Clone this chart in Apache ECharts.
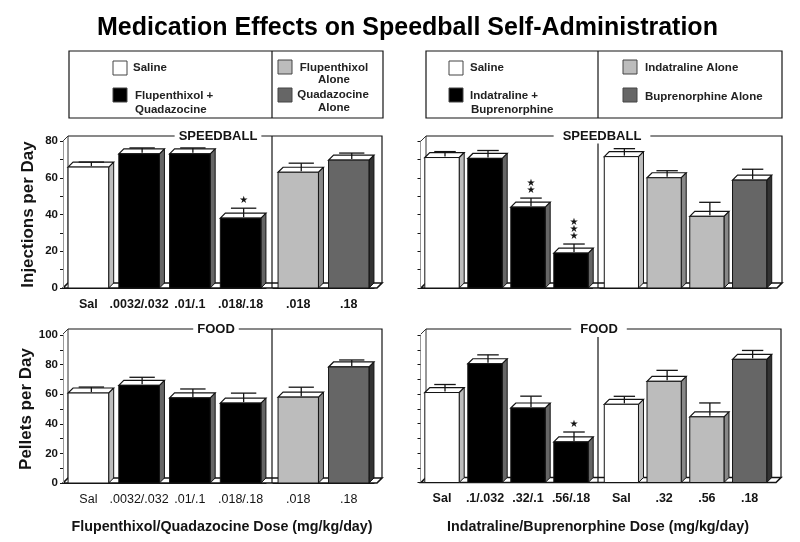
<!DOCTYPE html>
<html>
<head>
<meta charset="utf-8">
<style>html,body{margin:0;padding:0;background:#fff}#chart{width:800px;height:542px}</style>
<script src="https://cdn.jsdelivr.net/npm/echarts@6/dist/echarts.min.js"></script>
</head>
<body>
<div id="chart"></div>
<script>
// tick labels, left column
const comboCatsA = ['Sal', '.0032/.032', '.01/.1', '.018/.18'];
const aloneCatsA = ['.018', '.18'];
// tick labels, right column
const comboCatsB = ['Sal', '.1/.032', '.32/.1', '.56/.18'];
const aloneCatsB = ['Sal', '.32', '.56', '.18'];

const comboKindsA = ['saline', 'combo', 'combo', 'combo'];
const aloneKindsA = ['drugA', 'drugB'];
const comboKindsB = ['saline', 'combo', 'combo', 'combo'];
const aloneKindsB = ['saline', 'drugA', 'drugA', 'drugB'];

// top left: speedball, flupenthixol/quadazocine
const speedComboA = [65.8, 73, 73, 38];
const speedComboErrA = [1.1, 1.6, 1.6, 3.8];
const speedComboStarsA = [0, 0, 0, 1];
const speedAloneA = [63, 69.6];
const speedAloneErrA = [3.3, 2.2];

// top right: speedball, indatraline/buprenorphine
const speedComboB = [71, 70.5, 44, 19];
const speedComboErrB = [1.6, 2.7, 3.3, 3.3];
const speedComboStarsB = [0, 0, 2, 3];
const speedAloneB = [71.5, 60, 39, 58.7];
const speedAloneErrB = [2.7, 2.2, 6, 4.3];

// bottom left: food, flupenthixol/quadazocine
const foodComboA = [60.8, 66, 57.5, 54];
const foodComboErrA = [2, 3.4, 4, 4.7];
const foodComboStarsA = [0, 0, 0, 0];
const foodAloneA = [58, 78.4];
const foodAloneErrA = [4.7, 2.7];

// bottom right: food, indatraline/buprenorphine
const foodComboB = [61, 80.5, 50.5, 27.5];
const foodComboErrB = [3.4, 4, 6, 4.7];
const foodComboStarsB = [0, 0, 0, 1];
const foodAloneB = [53, 68.6, 44.5, 83.5];
const foodAloneErrB = [3.4, 5.4, 7.4, 4];

const FONT = '"Liberation Sans", Arial, sans-serif';
const INK = '#141414';
const DEPTH = 5;
const kindStyle = {
  saline: {face: '#fff', side: '#bdbdbd'},
  combo: {face: '#000', side: '#666'},
  drugA: {face: '#bcbcbc', side: '#888'},
  drugB: {face: '#666', side: '#333'}
};

function barRenderer(kinds, stars) {
  return function (params, api) {
    const i = api.value(0);
    const v = api.value(1);
    const e = api.value(2);
    const top = api.coord([i, v]);
    const base = api.coord([i, 0]);
    const band = api.size([1, 0])[0];
    const w = band * 0.8;
    const x0 = top[0] - w / 2, x1 = top[0] + w / 2;
    const st = kindStyle[kinds[i]];
    const line = {stroke: INK, lineWidth: 1.3};
    const mid = top[0] + 3;
    const capY = api.coord([i, v + e])[1] - 3;
    const capW = band * 0.25;
    const kids = [
      {type: 'polygon', shape: {points: [[x1, top[1]], [x1 + DEPTH, top[1] - DEPTH], [x1 + DEPTH, base[1] - DEPTH], [x1, base[1]]]}, style: {fill: st.side, stroke: INK, lineWidth: 1}},
      {type: 'polygon', shape: {points: [[x0, top[1]], [x0 + DEPTH, top[1] - DEPTH], [x1 + DEPTH, top[1] - DEPTH], [x1, top[1]]]}, style: {fill: '#fff', stroke: INK, lineWidth: 1.2}},
      {type: 'rect', shape: {x: x0, y: top[1], width: w, height: base[1] - top[1]}, style: {fill: st.face, stroke: INK, lineWidth: 1}},
      {type: 'line', shape: {x1: mid, y1: capY, x2: mid, y2: top[1] - 1}, style: line},
      {type: 'line', shape: {x1: mid - capW, y1: capY, x2: mid + capW, y2: capY}, style: line}
    ];
    for (let k = 0; k < stars[i]; k++) {
      kids.push({type: 'text', style: {text: '★', x: mid, y: capY - 8 - k * 7, align: 'center', verticalAlign: 'middle', font: '10px "DejaVu Sans"', fill: INK}});
    }
    return {type: 'group', children: kids};
  };
}

const grids = [], xAxes = [], yAxes = [], series = [], deco = [];

function addGroup(g, cats, kinds, vals, errs, stars, yOpt, labelOpt, showY) {
  const idx = grids.length;
  grids.push({left: g.left, width: g.width, top: g.top, height: g.height, containLabel: false});
  xAxes.push({
    type: 'category', gridIndex: idx, data: cats,
    axisLine: {lineStyle: {color: INK, width: 1}},
    axisTick: {alignWithLabel: true, length: 3, lineStyle: {color: INK}},
    axisLabel: Object.assign({interval: 0, color: INK, fontFamily: FONT, fontSize: 12.5}, labelOpt)
  });
  yAxes.push({
    type: 'value', gridIndex: idx, min: 0, max: yOpt.max, interval: yOpt.interval,
    show: showY,
    name: yOpt.name, nameLocation: 'middle', nameGap: yOpt.nameGap, nameRotate: 90,
    nameTextStyle: {color: INK, fontFamily: FONT, fontSize: 17, fontWeight: 'bold'},
    axisLine: {show: true, lineStyle: {color: '#999', width: 1}},
    axisTick: {show: true, length: 3, lineStyle: {color: INK}},
    minorTick: {show: yOpt.labels, splitNumber: 2, length: 3, lineStyle: {color: INK}},
    splitLine: {show: false},
    axisLabel: {show: yOpt.labels, color: INK, fontFamily: FONT, fontSize: 11.5, fontWeight: 'bold', margin: 5}
  });
  series.push({
    type: 'custom', xAxisIndex: idx, yAxisIndex: idx, clip: false, z: 3,
    encode: {x: 0, y: 1},
    renderItem: barRenderer(kinds, stars),
    data: vals.map((v, i) => [i, v, errs[i]])
  });
}

function addWall(p) {
  const y0 = p.y0, t = p.wallTop, x0 = p.x0, xr = p.right;
  const line = {stroke: INK, lineWidth: 1.2, fill: null};
  deco.push({type: 'polygon', shape: {points: [[x0, y0], [xr - DEPTH, y0], [xr, y0 - DEPTH], [x0 + DEPTH, y0 - DEPTH]]}, style: {fill: '#fff', stroke: INK, lineWidth: 1.6}});
  deco.push({type: 'polyline', shape: {points: [[x0, t + DEPTH], [x0 + DEPTH, t], [x0 + DEPTH, y0 - DEPTH]]}, style: {stroke: '#333', lineWidth: 1, fill: null}});
  deco.push({type: 'polyline', shape: {points: [[x0 + DEPTH, t], [xr, t], [xr, y0 - DEPTH]]}, style: line});
  deco.push({type: 'line', shape: {x1: p.div, y1: p.divTop, x2: p.div, y2: y0}, style: {stroke: INK, lineWidth: 1.2}});
  deco.push({type: 'text', z: 1, style: {text: p.label, x: p.labelX, y: t, align: 'center', verticalAlign: 'middle', font: 'bold 13px ' + FONT, fill: INK, backgroundColor: '#fff', padding: [1, p.labelPad]}});
}

function addLegendBox(box, swatches, texts) {
  deco.push({type: 'rect', shape: {x: box.x, y: box.y, width: box.w, height: box.h}, style: {fill: '#fff', stroke: INK, lineWidth: 1.2}});
  deco.push({type: 'line', shape: {x1: box.div, y1: box.y, x2: box.div, y2: box.y + box.h}, style: {stroke: INK, lineWidth: 1.2}});
  swatches.forEach(s => deco.push({type: 'rect', shape: {x: s[0], y: s[1], width: 14, height: 14}, style: {fill: kindStyle[s[2]].face, stroke: '#444', lineWidth: 1}}));
  texts.forEach(t => deco.push({type: 'text', style: {text: t[0], x: t[1], y: t[2], align: t[3] || 'left', verticalAlign: 'middle', font: 'bold 11.5px ' + FONT, fill: '#222'}}));
}

const topY = {top: 141, height: 147};
const botA = {top: 335, height: 148};
const botB = {top: 335, height: 147.5};
const speedAxis = {max: 80, interval: 20, name: 'Injections per Day', labels: true, nameGap: 26};
const foodAxis = {max: 100, interval: 20, name: 'Pellets per Day', labels: true, nameGap: 24};
const plainTop = {max: 80, interval: 10, name: '', labels: false};
const plainBot = {max: 100, interval: 10, name: '', labels: false};
const hiddenTop = {max: 80, interval: 20, name: '', labels: false};
const hiddenBot = {max: 100, interval: 20, name: '', labels: false};
const boldLabel = {fontWeight: 'bold', margin: 10};
const lightLabel = {fontWeight: 'normal', margin: 10};

const leftA = {left: 63, width: 203}, rightA = {left: 273, width: 101};
const leftB = {left: 420.5, width: 172}, rightB = {left: 600, width: 171};

addGroup(Object.assign({}, leftA, topY), comboCatsA, comboKindsA, speedComboA, speedComboErrA, speedComboStarsA, speedAxis, boldLabel, true);
addGroup(Object.assign({}, rightA, topY), aloneCatsA, aloneKindsA, speedAloneA, speedAloneErrA, [0, 0], hiddenTop, boldLabel, false);
addGroup(Object.assign({}, leftB, topY), comboCatsB.map(() => ''), comboKindsB, speedComboB, speedComboErrB, speedComboStarsB, plainTop, boldLabel, true);
addGroup(Object.assign({}, rightB, topY), aloneCatsB.map(() => ''), aloneKindsB, speedAloneB, speedAloneErrB, [0, 0, 0, 0], hiddenTop, boldLabel, false);
addGroup(Object.assign({}, leftA, botA), comboCatsA, comboKindsA, foodComboA, foodComboErrA, foodComboStarsA, foodAxis, lightLabel, true);
addGroup(Object.assign({}, rightA, botA), aloneCatsA, aloneKindsA, foodAloneA, foodAloneErrA, [0, 0], hiddenBot, lightLabel, false);
addGroup(Object.assign({}, leftB, botB), comboCatsB, comboKindsB, foodComboB, foodComboErrB, foodComboStarsB, plainBot, boldLabel, true);
addGroup(Object.assign({}, rightB, botB), aloneCatsB, aloneKindsB, foodAloneB, foodAloneErrB, [0, 0, 0, 0], hiddenBot, boldLabel, false);

addWall({x0: 63, right: 382, y0: 288, wallTop: 136, div: 272, divTop: 136, label: 'SPEEDBALL', labelX: 218, labelPad: 4});
addWall({x0: 421, right: 782, y0: 288, wallTop: 136, div: 598, divTop: 143, label: 'SPEEDBALL', labelX: 602, labelPad: 9});
addWall({x0: 63, right: 382, y0: 483, wallTop: 329, div: 272, divTop: 329, label: 'FOOD', labelX: 216, labelPad: 4});
addWall({x0: 421, right: 781, y0: 482.5, wallTop: 329, div: 598, divTop: 337, label: 'FOOD', labelX: 599, labelPad: 9});

addLegendBox({x: 69, y: 51, w: 314, h: 67, div: 272},
  [[113, 61, 'saline'], [113, 88, 'combo'], [278, 60, 'drugA'], [278, 88, 'drugB']],
  [['Saline', 133, 68], ['Flupenthixol +', 135, 96], ['Quadazocine', 135, 110],
   ['Flupenthixol', 334, 68, 'center'], ['Alone', 334, 80, 'center'], ['Quadazocine', 333, 95, 'center'], ['Alone', 334, 108, 'center']]);
addLegendBox({x: 426, y: 51, w: 356, h: 67, div: 598},
  [[449, 61, 'saline'], [449, 88, 'combo'], [623, 60, 'drugA'], [623, 88, 'drugB']],
  [['Saline', 470, 68], ['Indatraline +', 470, 96], ['Buprenorphine', 471, 110],
   ['Indatraline Alone', 645, 68], ['Buprenorphine Alone', 645, 97]]);

deco.push({type: 'text', style: {text: 'Flupenthixol/Quadazocine Dose (mg/kg/day)', x: 222, y: 527, align: 'center', verticalAlign: 'middle', font: 'bold 14.3px ' + FONT, fill: INK}});
deco.push({type: 'text', style: {text: 'Indatraline/Buprenorphine Dose (mg/kg/day)', x: 598, y: 527, align: 'center', verticalAlign: 'middle', font: 'bold 14.3px ' + FONT, fill: INK}});

const chart = echarts.init(document.getElementById('chart'), null, {renderer: 'canvas'});
chart.setOption({
  animation: false,
  backgroundColor: '#fff',
  title: {
    text: 'Medication Effects on Speedball Self-Administration',
    left: 92, top: 11,
    textStyle: {color: '#000', fontFamily: FONT, fontSize: 25, fontWeight: 'bold'}
  },
  graphic: {elements: deco},
  grid: grids,
  xAxis: xAxes,
  yAxis: yAxes,
  series: series
});
</script>
</body>
</html>
